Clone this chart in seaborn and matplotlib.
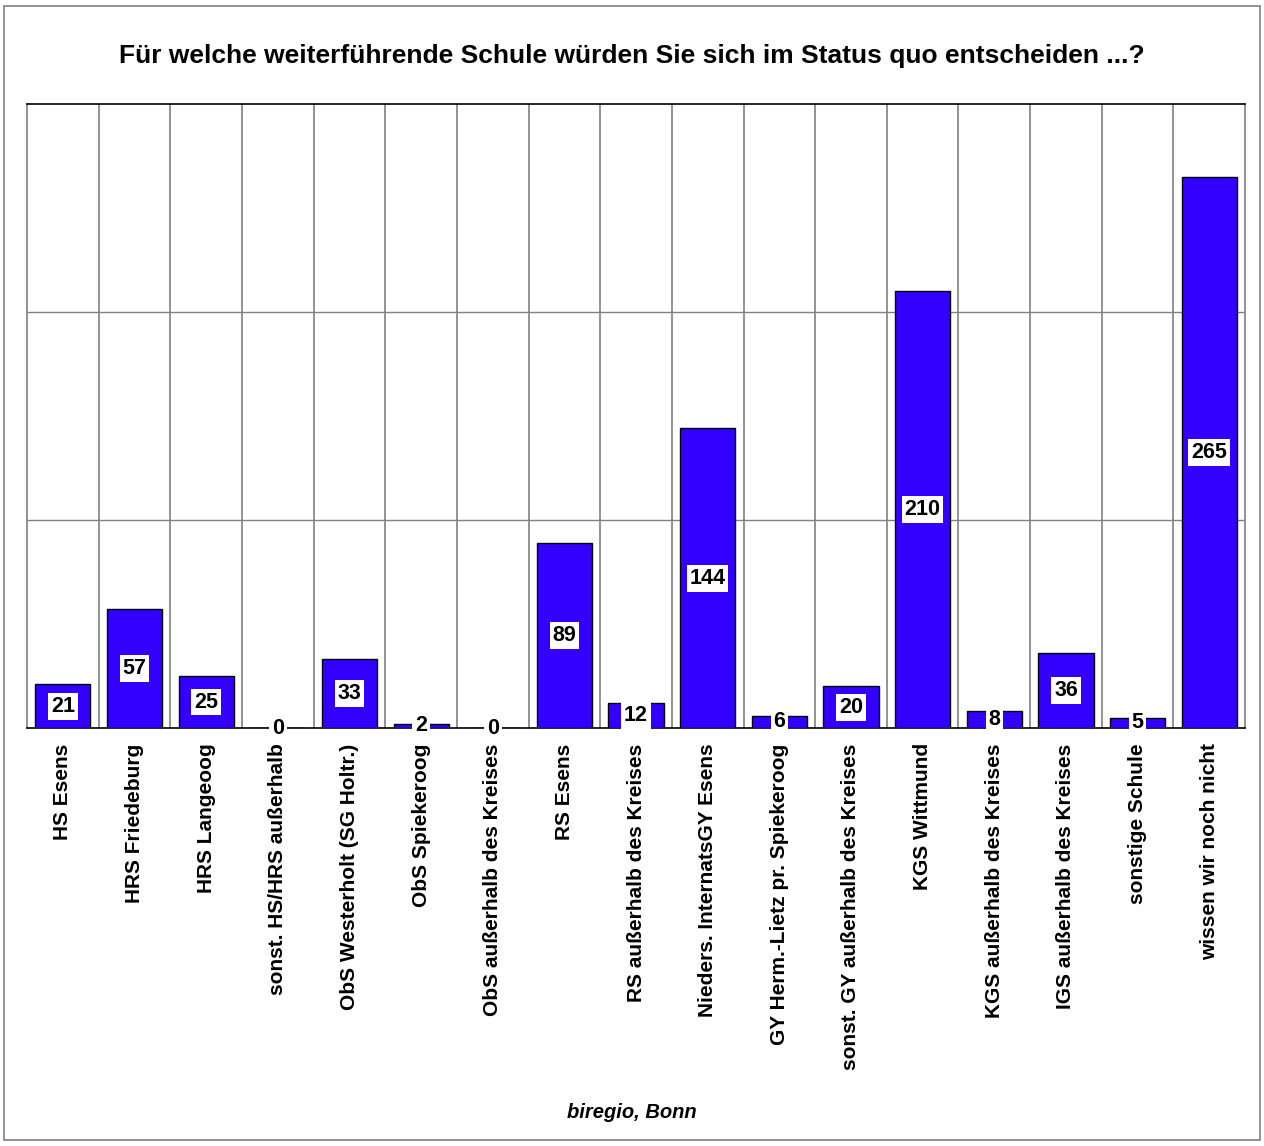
import seaborn as sns
import matplotlib.pyplot as plt
import pandas as pd
import numpy as np

schulen = ['HS Esens', 'HRS Friedeburg', 'HRS Langeoog', 'sonst. HS/HRS außerhalb',
           'ObS Westerholt (SG Holtr.)', 'ObS Spiekeroog', 'ObS außerhalb des Kreises',
           'RS Esens', 'RS außerhalb des Kreises', 'Nieders. InternatsGY Esens',
           'GY Herm.-Lietz pr. Spiekeroog', 'sonst. GY außerhalb des Kreises',
           'KGS Wittmund', 'KGS außerhalb des Kreises', 'IGS außerhalb des Kreises',
           'sonstige Schule', 'wissen wir noch nicht']
anzahl = [21, 57, 25, 0, 33, 2, 0, 89, 12, 144, 6, 20, 210, 8, 36, 5, 265]

df = pd.DataFrame({'schule': schulen, 'anzahl': anzahl})

sns.set_style('white')
plt.rcParams['font.family'] = ['Liberation Sans', 'DejaVu Sans']
plt.rcParams['text.color'] = 'black'
plt.rcParams['xtick.color'] = 'black'

fig = plt.figure(figsize=(12.64, 11.46), dpi=100)
ax = fig.add_axes([0.0214, 0.3647, 0.9636, 0.5446])

sns.barplot(data=df, x='schule', y='anzahl', color='#3300ff', saturation=1,
            width=0.77, edgecolor='black', linewidth=1, ax=ax, zorder=3)

ax.set_xlim(-0.5, len(schulen) - 0.5)
ax.set_ylim(0, 300)
for k in range(1, len(schulen)):
    ax.axvline(k - 0.5, color='#808080', lw=1.2, zorder=1)
for v in [100, 200]:
    ax.axhline(v, color='#808080', lw=1.0, zorder=1)

# Werte mittig im Balken, weisser Kasten
for i, v in enumerate(anzahl):
    ax.text(i, v / 2, str(v), ha='center', va='center', fontsize=15.5,
            fontweight='bold', color='black', zorder=5,
            bbox=dict(facecolor='white', edgecolor='none', pad=2))

ax.set_yticks([])
ax.set_xlabel('')
ax.set_ylabel('')
ax.tick_params(axis='x', length=0, pad=11)
ax.set_xticks(range(len(schulen)))
ax.set_xticklabels(schulen, rotation=90, fontsize=15, fontweight='bold', color='black')

ax.spines['top'].set_color('black')
ax.spines['bottom'].set_color('black')
ax.spines['left'].set_color('#808080')
ax.spines['right'].set_color('#808080')
for s in ax.spines.values():
    s.set_linewidth(1.2)

fig.text(0.5, 0.951, 'Für welche weiterführende Schule würden Sie sich im Status quo entscheiden ...?',
         ha='center', va='center', fontsize=19, fontweight='bold', color='black')
fig.text(0.5, 0.029, 'biregio, Bonn', ha='center', va='center', fontsize=14.5,
         fontweight='bold', style='italic', color='black')

fig.patches.append(plt.Rectangle((0.003, 0.005), 0.994, 0.99, transform=fig.transFigure,
                                 fill=False, edgecolor='#808080', lw=1.2))

fig.savefig('out.png', dpi=100)
